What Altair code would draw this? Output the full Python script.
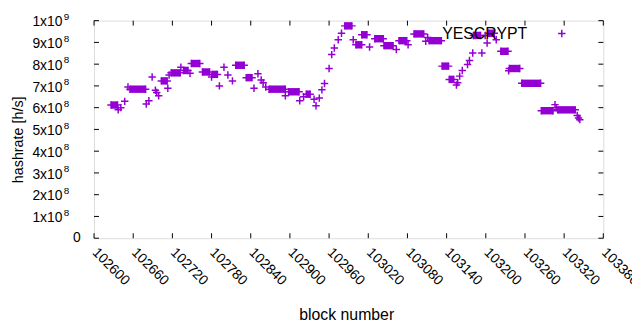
import altair as alt
import pandas as pd

PURPLE = "#9400d3"
FONT = "Liberation Sans"
W, H = 515, 220

# plateaus: runs of consecutive blocks sharing one hashrate value
plateau_start = [102626, 102655, 102703, 102718, 102737, 102749, 102766, 102781, 102817, 102833,
                 102868, 102898, 102925, 102984, 103001, 103010, 103030, 103044, 103067, 103090,
                 103113, 103133, 103144, 103181, 103204, 103223, 103236, 103255, 103285, 103310]
plateau_end = [102636, 102679, 102712, 102732, 102744, 102762, 102777, 102789, 102830, 102842,
               102893, 102914, 102931, 102995, 103010, 103018, 103043, 103058, 103079, 103105,
               103132, 103143, 103151, 103192, 103213, 103234, 103252, 103284, 103303, 103337]
plateau_value = [6.12e8, 6.85e8, 7.23e8, 7.60e8, 7.71e8, 8.03e8, 7.64e8, 7.53e8, 7.95e8, 7.38e8,
                 6.85e8, 6.73e8, 6.62e8, 9.76e8, 8.89e8, 9.35e8, 9.17e8, 8.85e8, 9.08e8, 9.39e8,
                 9.08e8, 7.91e8, 7.30e8, 9.32e8, 9.42e8, 8.59e8, 7.80e8, 7.12e8, 5.86e8, 5.90e8]

# isolated blocks
single_block = [102637, 102641, 102647, 102652, 102680, 102684, 102689, 102694, 102696, 102699,
                102713, 102715, 102733, 102747, 102780, 102792, 102799, 102805, 102812, 102845,
                102851, 102856, 102859, 102863, 102893, 102915, 102921, 102937, 102940, 102945,
                102949, 102953, 102960, 102964, 102968, 102974, 102979, 102997, 103022, 103063,
                103081, 103108, 103111, 103155, 103157, 103160, 103164, 103172, 103175, 103180,
                103194, 103199, 103202, 103216, 103235, 103306, 103308, 103340, 103342, 103344]
single_value = [5.90e8, 6.00e8, 6.29e8, 6.95e8, 6.17e8, 6.32e8, 7.41e8, 6.80e8, 6.70e8, 6.55e8,
                6.89e8, 7.50e8, 7.86e8, 7.58e8, 7.41e8, 7.00e8, 7.86e8, 7.50e8, 7.23e8, 6.89e8,
                7.56e8, 7.27e8, 7.15e8, 6.95e8, 6.55e8, 6.32e8, 6.50e8, 6.39e8, 6.09e8, 6.44e8,
                6.82e8, 7.11e8, 7.80e8, 8.44e8, 8.74e8, 9.12e8, 9.42e8, 9.12e8, 8.79e8, 8.67e8,
                8.89e8, 9.05e8, 9.23e8, 7.04e8, 7.15e8, 7.45e8, 7.71e8, 7.98e8, 8.17e8, 8.51e8,
                8.51e8, 9.32e8, 8.97e8, 9.12e8, 7.70e8, 6.14e8, 6.00e8, 5.64e8, 5.52e8, 5.45e8]

x_ticks = [102600, 102660, 102720, 102780, 102840, 102900, 102960, 103020, 103080,
           103140, 103200, 103260, 103320, 103380]
y_ticks = [0, 1e8, 2e8, 3e8, 4e8, 5e8, 6e8, 7e8, 8e8, 9e8, 1e9]
y_mantissa = ["", "1x10", "2x10", "3x10", "4x10", "5x10", "6x10", "7x10", "8x10", "9x10", "1x10"]
y_exponent = ["", "8", "8", "8", "8", "8", "8", "8", "8", "8", "9"]
zero_label = ["0"]
legend_label = ["YESCRYPT"]

plateaus = pd.DataFrame({"start": plateau_start, "end": plateau_end, "h": plateau_value})
singles = pd.DataFrame({"block": single_block, "h": single_value})
xt = pd.DataFrame({"tick": x_ticks})
yt = pd.DataFrame({"tick": y_ticks, "mant": y_mantissa, "expo": y_exponent})
zt = pd.DataFrame({"tick": [y_ticks[0]], "lab": zero_label})
leg = pd.DataFrame({"lab": legend_label})

xs = alt.Scale(domain=[102600, 103380], nice=False, zero=False)
ys = alt.Scale(domain=[0, 1e9], nice=False, zero=False)

x_axis = alt.Axis(values=x_ticks, format="d", ticks=False, tickSize=0, domain=False, grid=False,
                  labelAngle=45, labelAlign="left", labelBaseline="middle", labelPadding=12,
                  labelFontSize=14, labelFont=FONT, labelColor="black",
                  labelFlush=False, labelOverlap=False, labelBound=False,
                  title="block number", titleFont=FONT, titleFontSize=16, titleFontWeight="normal",
                  titleColor="black", titleX=255, titleY=82, titleBaseline="alphabetic",
                  titleAlign="center")
y_axis = alt.Axis(values=y_ticks, labels=False, ticks=False, tickSize=0, domain=False, grid=False,
                  title="hashrate [h/s]", titleFont=FONT, titleFontSize=14.5, titleFontWeight="normal",
                  titleColor="black", titleAngle=270, titleX=-76, titleY=120,
                  titleBaseline="middle", titleAlign="center")

cross = "M-1,0L1,0M0,-1L0,1"
MSIZE = 56
MSW = 1.5

bars = alt.Chart(plateaus).mark_rule(color=PURPLE, strokeWidth=7.5, strokeCap="butt").encode(
    x=alt.X("start:Q", scale=xs, axis=x_axis),
    x2="end:Q",
    y=alt.Y("h:Q", scale=ys, axis=y_axis),
)

ends = alt.Chart(plateaus).transform_fold(["start", "end"], as_=["edge", "block"]).mark_point(
    shape=cross, size=MSIZE, filled=False, color=PURPLE, strokeWidth=MSW, opacity=1
).encode(
    x=alt.X("block:Q", scale=xs, axis=x_axis),
    y=alt.Y("h:Q", scale=ys, axis=y_axis),
)

pts = alt.Chart(singles).mark_point(
    shape=cross, size=MSIZE, filled=False, color=PURPLE, strokeWidth=MSW, opacity=1
).encode(
    x=alt.X("block:Q", scale=xs, axis=x_axis),
    y=alt.Y("h:Q", scale=ys, axis=y_axis),
)

tick_len = 5
tb = alt.Chart(xt).mark_rule(color="black", strokeWidth=1).encode(
    x=alt.X("tick:Q", scale=xs, axis=x_axis), y=alt.value(H), y2=alt.value(H - tick_len))
tt = alt.Chart(xt).mark_rule(color="black", strokeWidth=1).encode(
    x=alt.X("tick:Q", scale=xs, axis=x_axis), y=alt.value(0), y2=alt.value(tick_len))
tl = alt.Chart(yt).mark_rule(color="black", strokeWidth=1).encode(
    y=alt.Y("tick:Q", scale=ys, axis=y_axis), x=alt.value(0), x2=alt.value(tick_len))
tr = alt.Chart(yt).mark_rule(color="black", strokeWidth=1).encode(
    y=alt.Y("tick:Q", scale=ys, axis=y_axis), x=alt.value(W), x2=alt.value(W - tick_len))

mant = alt.Chart(yt).mark_text(align="right", baseline="alphabetic", dy=5.7, font=FONT,
                               fontSize=14, color="black").encode(
    y=alt.Y("tick:Q", scale=ys, axis=y_axis), x=alt.value(-32), text="mant:N")
expo = alt.Chart(yt).mark_text(align="left", baseline="alphabetic", dy=-0.7, font=FONT,
                               fontSize=10, color="black").encode(
    y=alt.Y("tick:Q", scale=ys, axis=y_axis), x=alt.value(-30.5), text="expo:N")
zero = alt.Chart(zt).mark_text(align="right", baseline="middle", font=FONT,
                               fontSize=14, color="black").encode(
    y=alt.Y("tick:Q", scale=ys, axis=y_axis), x=alt.value(-13.5), text="lab:N")

leg_text = alt.Chart(leg).mark_text(align="right", baseline="alphabetic", font=FONT,
                                    fontSize=16, color="black").encode(
    x=alt.value(438), y=alt.value(18.3), text="lab:N")
leg_mark = alt.Chart(leg).mark_point(shape=cross, size=MSIZE, filled=False, color=PURPLE,
                                     strokeWidth=MSW, opacity=1).encode(
    x=alt.value(473), y=alt.value(13))

chart = alt.layer(bars, ends, pts, tb, tt, tl, tr, mant, expo, zero, leg_text, leg_mark).properties(
    width=W, height=H,
    autosize=alt.AutoSizeParams(type="none"),
    padding={"left": 87, "top": 11, "right": 29, "bottom": 88},
    background="white",
).configure_view(stroke="black", strokeWidth=1).configure(font=FONT)

chart.save("out.html", embed_options={"renderer": "svg", "actions": False})
